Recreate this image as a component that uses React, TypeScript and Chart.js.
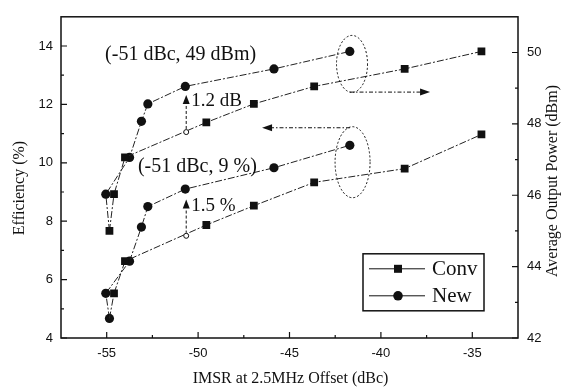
import React, { useEffect, useRef } from 'react';
import { Chart, registerables } from 'chart.js';

Chart.register(...registerables);

// ---------- data ----------
const xTicks = [-55, -50, -45, -40, -35];
const xMinorTicks = [-52.5, -47.5, -42.5, -37.5];
const effTicks = [4, 6, 8, 10, 12, 14];
const effMinorTicks = [5, 7, 9, 11, 13];
const powTicks = [42, 44, 46, 48, 50];
const powMinorTicks = [43, 45, 47, 49];

// Output power (right axis, dBm)
const convPowerX = [-54.85, -54.6, -54.0, -49.55, -46.95, -43.65, -38.7, -34.5];
const convPowerY = [45.0, 46.03, 47.06, 48.04, 48.56, 49.05, 49.54, 50.03];
const convPowerR = [5.5, 5.5, 5.5, 5.5, 5.5, 5.5, 5.5, 5.5];
const newPowerX = [-54.85, -55.05, -53.75, -53.1, -52.75, -50.7, -45.85, -41.7];
const newPowerY = [45.0, 46.03, 47.06, 48.07, 48.56, 49.05, 49.54, 50.03];
const newPowerR = [0, 4.6, 4.6, 4.6, 4.6, 4.6, 4.6, 4.6];

// Efficiency (left axis, %)
const convEffX = [-54.85, -54.6, -54.0, -49.55, -46.95, -43.65, -38.7, -34.5];
const convEffY = [4.67, 5.53, 6.63, 7.87, 8.53, 9.33, 9.8, 10.97];
const convEffR = [0, 5.5, 5.5, 5.5, 5.5, 5.5, 5.5, 5.5];
const newEffX = [-54.85, -55.05, -53.75, -53.1, -52.75, -50.7, -45.85, -41.7];
const newEffY = [4.67, 5.53, 6.63, 7.8, 8.5, 9.1, 9.83, 10.6];
const newEffR = [4.6, 4.6, 4.6, 4.6, 4.6, 4.6, 4.6, 4.6];

// Conv values read at -51 dBc (open markers)
const hollowPowerX = [-50.65];
const hollowPowerY = [47.77];
const hollowEffX = [-50.65];
const hollowEffY = [7.5];

// Annotation anchors
const gapX = [-50.65, -50.65];
const gapTop = [48.67, 8.57];
const gapBottom = [47.77, 7.5];
const gapAxis = ['y2', 'y'];
const gapLabels = ['1.2 dB', '1.5 %'];

const noteLabels = ['(-51 dBc, 49 dBm)', '(-51 dBc, 9 %)'];
const noteX = [-55.09, -53.29];
const noteY = [49.94, 9.87];
const noteAxis = ['y2', 'y'];

const ellipseX = [-41.58, -41.55];
const ellipseY = [49.68, 10.02];
const ellipseAxis = ['y2', 'y'];

const arrowFromX = [-41.69, -41.69];
const arrowToX = [-37.31, -46.5];
const arrowY = [48.89, 11.2];
const arrowAxis = ['y2', 'y'];

const legendLabels = ['Conv', 'New'];

const SERIF = '"Liberation Serif", "Times New Roman", serif';
const SANS = '"Liberation Sans", Arial, sans-serif';
const INK = '#111';

const pts = (xs: number[], ys: number[]) => xs.map((x, i) => ({ x, y: ys[i] }));

const decorPlugin = {
  id: 'decor',
  afterDatasetsDraw(chart: any) {
    const { ctx, chartArea: a, scales } = chart;
    const sx = scales.x;
    ctx.save();
    // frame
    ctx.strokeStyle = INK;
    ctx.lineWidth = 1.5;
    ctx.setLineDash([]);
    ctx.strokeRect(a.left, a.top, a.right - a.left, a.bottom - a.top);
    // inward ticks
    ctx.lineWidth = 1.2;
    ctx.beginPath();
    const vt = (scale: any, vals: number[], len: number, right: boolean) => {
      vals.forEach((v) => {
        const y = scale.getPixelForValue(v);
        const x0 = right ? a.right : a.left;
        ctx.moveTo(x0, y);
        ctx.lineTo(right ? x0 - len : x0 + len, y);
      });
    };
    vt(scales.y, effTicks, 6, false);
    vt(scales.y, effMinorTicks, 3, false);
    vt(scales.y2, powTicks, 6, true);
    vt(scales.y2, powMinorTicks, 3, true);
    xTicks.forEach((v) => {
      const x = sx.getPixelForValue(v);
      ctx.moveTo(x, a.bottom);
      ctx.lineTo(x, a.bottom - 6);
    });
    xMinorTicks.forEach((v) => {
      const x = sx.getPixelForValue(v);
      ctx.moveTo(x, a.bottom);
      ctx.lineTo(x, a.bottom - 3);
    });
    ctx.stroke();

    // ellipses
    ctx.lineWidth = 1;
    ctx.setLineDash([2, 2]);
    const radii = [
      [15.5, 28.5],
      [17.5, 35.5],
    ];
    ellipseX.forEach((ex, i) => {
      const cx = sx.getPixelForValue(ex);
      const cy = scales[ellipseAxis[i]].getPixelForValue(ellipseY[i]);
      ctx.beginPath();
      ctx.ellipse(cx, cy, radii[i][0], radii[i][1], 0, 0, Math.PI * 2);
      ctx.stroke();
    });

    // arrows
    arrowFromX.forEach((fx, i) => {
      const x0 = sx.getPixelForValue(fx);
      const x1 = sx.getPixelForValue(arrowToX[i]);
      const y = scales[arrowAxis[i]].getPixelForValue(arrowY[i]);
      const dir = Math.sign(x1 - x0);
      ctx.setLineDash([4, 2, 1.5, 2]);
      ctx.beginPath();
      ctx.moveTo(x0, y);
      ctx.lineTo(x1 - dir * 8, y);
      ctx.stroke();
      ctx.setLineDash([]);
      ctx.fillStyle = INK;
      ctx.beginPath();
      ctx.moveTo(x1, y);
      ctx.lineTo(x1 - dir * 10, y - 3.5);
      ctx.lineTo(x1 - dir * 10, y + 3.5);
      ctx.closePath();
      ctx.fill();
    });

    // gap markers (triangle + dashed vertical)
    gapX.forEach((gx, i) => {
      const s = scales[gapAxis[i]];
      const x = sx.getPixelForValue(gx);
      const yt = s.getPixelForValue(gapTop[i]);
      const yb = s.getPixelForValue(gapBottom[i]);
      ctx.fillStyle = INK;
      ctx.setLineDash([]);
      ctx.beginPath();
      ctx.moveTo(x, yt - 5);
      ctx.lineTo(x - 3.5, yt + 4);
      ctx.lineTo(x + 3.5, yt + 4);
      ctx.closePath();
      ctx.fill();
      ctx.lineWidth = 1;
      ctx.setLineDash([3, 2]);
      ctx.beginPath();
      ctx.moveTo(x, yt + 6);
      ctx.lineTo(x, yb - 3);
      ctx.stroke();
      ctx.setLineDash([]);
      ctx.font = `19px ${SERIF}`;
      ctx.textAlign = 'left';
      ctx.textBaseline = 'middle';
      ctx.fillText(gapLabels[i], x + 5, yt + 1);
    });

    // notes
    ctx.font = `20px ${SERIF}`;
    ctx.textAlign = 'left';
    ctx.textBaseline = 'middle';
    ctx.fillStyle = INK;
    noteLabels.forEach((t, i) => {
      ctx.fillText(t, sx.getPixelForValue(noteX[i]), scales[noteAxis[i]].getPixelForValue(noteY[i]));
    });

    // legend
    const lx = a.right - 155;
    const ly = a.top + 237;
    ctx.lineWidth = 1.5;
    ctx.setLineDash([]);
    ctx.strokeStyle = INK;
    ctx.strokeRect(lx, ly, 121, 57);
    ctx.font = `21px ${SERIF}`;
    legendLabels.forEach((t, i) => {
      const y = ly + 15 + i * 27;
      ctx.lineWidth = 1;
      ctx.beginPath();
      ctx.moveTo(lx + 6, y);
      ctx.lineTo(lx + 62, y);
      ctx.stroke();
      ctx.fillStyle = INK;
      const mx = lx + 35;
      if (i === 0) {
        ctx.fillRect(mx - 4, y - 4, 8, 8);
      } else {
        ctx.beginPath();
        ctx.arc(mx, y, 4.8, 0, Math.PI * 2);
        ctx.fill();
      }
      ctx.fillText(t, lx + 69, y + 1);
    });

    // axis titles
    ctx.font = `16px ${SERIF}`;
    ctx.textAlign = 'center';
    ctx.textBaseline = 'middle';
    ctx.fillText('IMSR at 2.5MHz Offset (dBc)', (a.left + a.right) / 2 + 1, 379);
    ctx.save();
    ctx.translate(20, 188);
    ctx.rotate(-Math.PI / 2);
    ctx.fillText('Efficiency (%)', 0, 0);
    ctx.restore();
    ctx.save();
    ctx.translate(553, 181);
    ctx.rotate(-Math.PI / 2);
    ctx.fillText('Average Output Power (dBm)', 0, 0);
    ctx.restore();
    ctx.restore();
  },
};

export default function App() {
  const ref = useRef<HTMLCanvasElement>(null);
  useEffect(() => {
    document.body.style.margin = '0';
    const canvas = ref.current;
    if (!canvas) return;
    const lineStyle = {
      borderColor: '#222',
      borderWidth: 1,
      borderDash: [7, 2, 2, 2],
      showLine: true,
      pointBackgroundColor: INK,
      pointBorderColor: INK,
      pointBorderWidth: 0,
      fill: false,
      tension: 0,
    };
    const chart = new Chart(canvas, {
      type: 'scatter',
      data: {
        datasets: [
          {
            label: 'hollowPower',
            data: pts(hollowPowerX, hollowPowerY),
            yAxisID: 'y2',
            showLine: false,
            pointStyle: 'circle',
            pointRadius: 2.5,
            pointBackgroundColor: '#fff',
            pointBorderColor: INK,
            pointBorderWidth: 1,
          },
          {
            label: 'hollowEff',
            data: pts(hollowEffX, hollowEffY),
            yAxisID: 'y',
            showLine: false,
            pointStyle: 'circle',
            pointRadius: 2.5,
            pointBackgroundColor: '#fff',
            pointBorderColor: INK,
            pointBorderWidth: 1,
          },
          { label: 'Conv P', data: pts(convPowerX, convPowerY), yAxisID: 'y2', pointStyle: 'rect', pointRadius: convPowerR, ...lineStyle },
          { label: 'New P', data: pts(newPowerX, newPowerY), yAxisID: 'y2', pointStyle: 'circle', pointRadius: newPowerR, ...lineStyle },
          { label: 'Conv E', data: pts(convEffX, convEffY), yAxisID: 'y', pointStyle: 'rect', pointRadius: convEffR, ...lineStyle },
          { label: 'New E', data: pts(newEffX, newEffY), yAxisID: 'y', pointStyle: 'circle', pointRadius: newEffR, ...lineStyle },
        ] as any,
      },
      options: {
        responsive: false,
        animation: false,
        events: [],
        layout: { padding: { top: 8, left: 0, right: 0, bottom: 0 } },
        plugins: { legend: { display: false }, tooltip: { enabled: false } },
        scales: {
          x: {
            type: 'linear',
            position: 'bottom',
            min: -57.5,
            max: -32.5,
            afterBuildTicks: (s: any) => {
              s.ticks = xTicks.map((v) => ({ value: v }));
            },
            afterFit: (s: any) => {
              s.height = 52;
            },
            grid: { display: false, drawTicks: false },
            border: { display: false },
            ticks: { color: INK, padding: 8, font: { family: SANS, size: 13 }, maxRotation: 0 },
          },
          y: {
            type: 'linear',
            position: 'left',
            min: 4,
            max: 15,
            afterBuildTicks: (s: any) => {
              s.ticks = effTicks.map((v) => ({ value: v }));
            },
            afterFit: (s: any) => {
              s.width = 61;
            },
            grid: { display: false, drawTicks: false },
            border: { display: false },
            ticks: { color: INK, padding: 8, font: { family: SANS, size: 13 } },
          },
          y2: {
            type: 'linear',
            position: 'right',
            min: 42,
            max: 51,
            afterBuildTicks: (s: any) => {
              s.ticks = powTicks.map((v) => ({ value: v }));
            },
            afterFit: (s: any) => {
              s.width = 50;
            },
            grid: { display: false, drawTicks: false },
            border: { display: false },
            ticks: { color: INK, padding: 9, font: { family: SANS, size: 13 } },
          },
        },
      } as any,
      plugins: [decorPlugin],
    });
    return () => chart.destroy();
  }, []);
  return <canvas ref={ref} width={568} height={390} style={{ display: 'block' }} />;
}
